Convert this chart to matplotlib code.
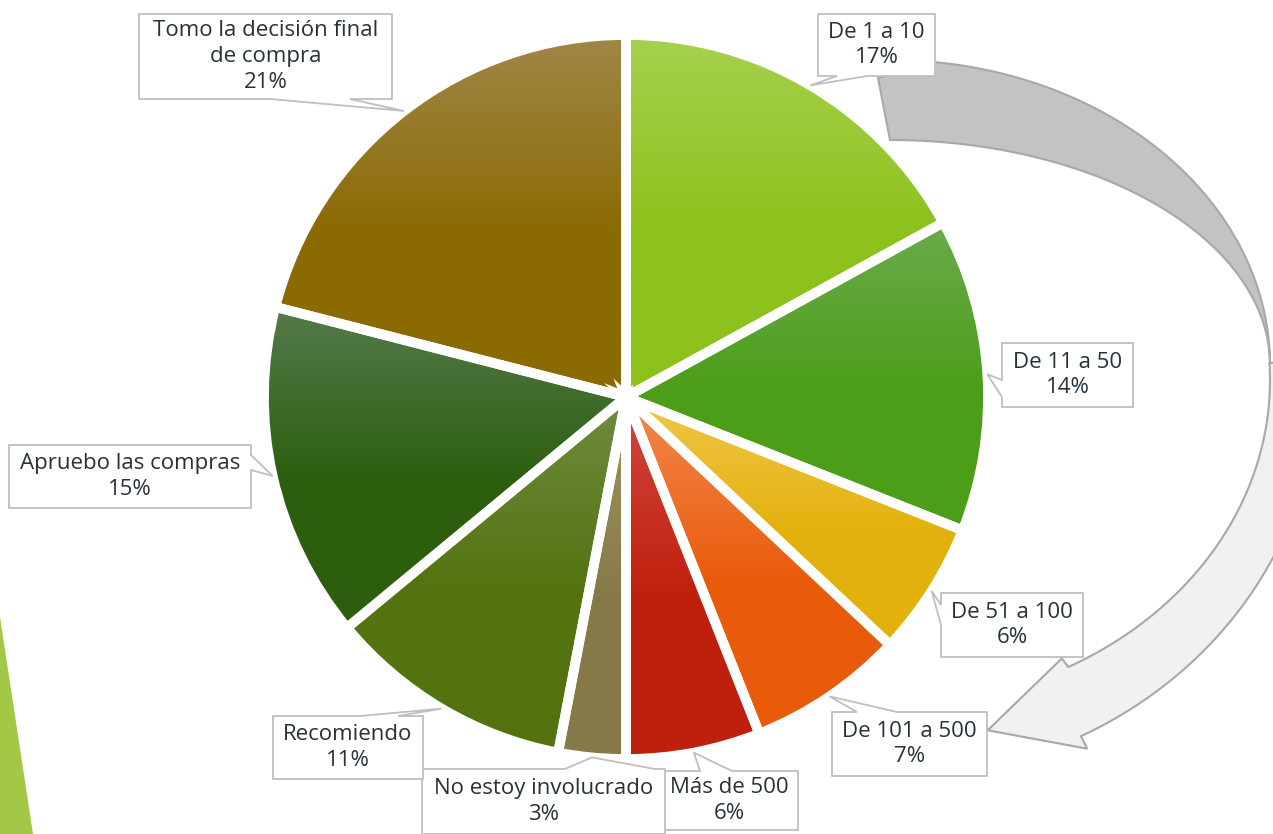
import numpy as np
import matplotlib.pyplot as plt
from matplotlib.patches import Polygon
from matplotlib.colors import to_rgb

# chart data
labels = ['De 1 a 10', 'De 11 a 50', 'De 51 a 100', 'De 101 a 500', 'Más de 500',
          'No estoy involucrado', 'Recomiendo', 'Apruebo las compras',
          'Tomo la decisión final\nde compra']
shares = [17, 14, 6, 7, 6, 3, 11, 15, 21]

# gradient colours (top -> base)
top_colors = ['#a6d14e', '#6bab4c', '#f1c64c', '#f2884e', '#d2483e',
              '#a29565', '#6f8c42', '#557a4c', '#a08748']
base_colors = ['#8dc11b', '#4c9e19', '#e3b10b', '#e95b0b', '#bf200d',
               '#857a48', '#53730f', '#2c5e0d', '#8b6a02']

# callout boxes in pixel coords: x0, y0, x1, y1, side of tail, tail base a, b
boxes = [
    (818, 14, 935, 76, 'bottom', 837, 867),
    (1002, 343, 1133, 407, 'left', 380, 397),
    (941, 593, 1083, 657, 'left', 605, 625),
    (832, 712, 987, 776, 'top', 857, 897),
    (660, 771, 798, 830, 'top', 700, 732),
    (422, 769, 665, 834, 'top', 565, 655),
    (273, 716, 423, 779, 'top', 360, 398),
    (9, 445, 251, 508, 'right', 455, 470),
    (139, 14, 392, 99, 'bottom', 270, 350),
]

W, H = 1273, 834
CX, CY, R = 626, 397, 362
TEXT = '#26313a'
plt.rcParams['font.family'] = ['Open Sans', 'DejaVu Sans']


def py(y):
    return H - y


fig = plt.figure(figsize=(12.73, 8.34), dpi=100)
ax = fig.add_axes([0, 0, 1, 1])

# slide decoration on the left
ax.add_patch(Polygon([(0, py(617)), (33, py(834)), (0, py(834))],
                     closed=True, fc='#a2c846', ec='none', zorder=0))

# curved arrow on the right (back part + front part)
ecx = 890
ang_o = np.radians(np.linspace(-83, 0, 80))
ang_i = np.radians(np.linspace(-90, 0, 80))
up_out = np.c_[ecx + 380 * np.cos(ang_o), 365 + 305 * np.sin(ang_o)]
up_in = np.c_[ecx + 380 * np.cos(ang_i), 365 + 225 * np.sin(ang_i)]
pts = np.vstack([[[878, 78]], up_out, up_in[::-1]])
pts[:, 1] = py(pts[:, 1])
ax.add_patch(Polygon(pts, closed=True, fc='#c3c3c3', ec='#a8a8a8', lw=1.5, zorder=1))

a_out = np.radians(np.linspace(-3, 63.5, 80))
a_in = np.radians(np.linspace(-3, 62, 80))
lo_out = np.c_[ecx + 428 * np.cos(a_out), 380 + 398 * np.sin(a_out)]
lo_in = np.c_[ecx + 380 * np.cos(a_in), 380 + 325 * np.sin(a_in)]
t_b = np.radians(63.5)
barb_out = [ecx + 442 * np.cos(t_b), 380 + 412 * np.sin(t_b)]
t_i = np.radians(62.5)
barb_in = [ecx + 372 * np.cos(t_i), 380 + 314 * np.sin(t_i)]
t_tip = np.radians(76)
tip = [ecx + 404 * np.cos(t_tip), 380 + 361 * np.sin(t_tip)]
pts = np.vstack([lo_out, [barb_out], [tip], [barb_in], lo_in[::-1]])
pts[:, 1] = py(pts[:, 1])
ax.add_patch(Polygon(pts, closed=True, fc='#f1f1f1', ec='#a8a8a8', lw=1.5, zorder=1))

# pie
wedges, _ = ax.pie(shares, startangle=90, counterclock=False,
                   center=(CX, py(CY)), radius=R,
                   wedgeprops=dict(facecolor='none', edgecolor='white',
                                   linewidth=7, zorder=3))

t = np.linspace(0, 1, 256)[:, None]
mix = np.clip(t / 0.55, 0, 1)
for w, c0, c1 in zip(wedges, top_colors, base_colors):
    v = w.get_path().vertices
    x0, x1 = v[:, 0].min(), v[:, 0].max()
    y0, y1 = v[:, 1].min(), v[:, 1].max()
    rgb = (1 - mix) * np.array(to_rgb(c0)) + mix * np.array(to_rgb(c1))
    im = ax.imshow(rgb[:, None, :], extent=[x0, x1, y0, y1], origin='upper',
                   aspect='auto', zorder=2, interpolation='bilinear')
    im.set_clip_path(w)

# callouts
for w, lab, val, bx in zip(wedges, labels, shares, boxes):
    x0, y0, x1, y1, side, a, b = bx
    mid = np.radians((w.theta1 + w.theta2) / 2)
    tx, ty = CX + R * np.cos(mid), py(CY) + R * np.sin(mid)
    tip_px = (tx, py(ty))
    if side == 'bottom':
        poly = [(x0, y0), (x1, y0), (x1, y1), (b, y1), tip_px, (a, y1), (x0, y1)]
    elif side == 'top':
        poly = [(x0, y0), (a, y0), tip_px, (b, y0), (x1, y0), (x1, y1), (x0, y1)]
    elif side == 'left':
        poly = [(x0, y0), (x1, y0), (x1, y1), (x0, y1), (x0, b), tip_px, (x0, a)]
    else:
        poly = [(x0, y0), (x1, y0), (x1, a), tip_px, (x1, b), (x1, y1), (x0, y1)]
    poly = [(px, py(pyy)) for px, pyy in poly]
    ax.add_patch(Polygon(poly, closed=True, fc='white', ec='#bfbfbf', lw=1.3, zorder=5))
    ax.text((x0 + x1) / 2, py((y0 + y1) / 2), f'{lab}\n{val}%', ha='center', va='center',
            fontsize=16, color=TEXT, linespacing=1.3, zorder=6)

ax.set_xlim(0, W)
ax.set_ylim(0, H)
ax.set_aspect('equal')
ax.axis('off')
fig.savefig('out.png', dpi=100)
